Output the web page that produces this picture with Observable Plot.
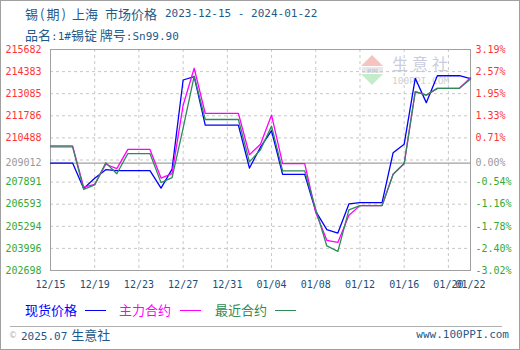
<!DOCTYPE html>
<html>
<head>
<meta charset="utf-8">
<script src="https://cdn.jsdelivr.net/npm/d3@7"></script>
<script src="https://cdn.jsdelivr.net/npm/@observablehq/plot@0.6"></script>
<style>
  body { margin: 0; background: #fff; }
  #wrap { position: relative; width: 520px; height: 350px; overflow: hidden; background: #fff; }
  .c { font-family: "Noto Sans CJK SC", sans-serif; font-size: 13px; }
  .m { font-family: "DejaVu Sans Mono", monospace; font-size: 11px; }
  .abs { position: absolute; white-space: nowrap; line-height: 16px; }
  .p { display: inline-block; width: 8.5px; text-align: center; }
  #border { position: absolute; left: 0; top: 0; width: 520px; height: 350px; box-sizing: border-box; border: 1px solid #a0a0a0; pointer-events: none; z-index: 5; }
  #chart { position: absolute; left: 0; top: 0; z-index: 2; }
  #wm { position: absolute; left: 0; top: 0; z-index: 1; }
  .tx { color: #1f5a8a; }
</style>
</head>
<body>
<div id="wrap">
  <div id="wm">
    <svg width="520" height="350">
      <polygon points="372,55 361,66 383,66" fill="#f6c4c0"/>
      <rect x="362" y="67" width="21" height="6" fill="#e8e8ec"/>
      <text x="372.5" y="72.5" text-anchor="middle" font-family="DejaVu Sans" font-size="6" font-weight="bold" fill="#c8ccd8">PPI</text>
      <polygon points="361,74 383,74 372,85" fill="#c4ecca"/>
      <text x="392" y="70" font-family="Noto Sans CJK SC" font-size="16" letter-spacing="4" fill="#c8cddd">生意社</text>
      <text x="392" y="84" font-family="DejaVu Sans Mono" font-size="9.5" fill="#cfcfcf">100PPI.COM</text>
    </svg>
  </div>
  <div id="chart"></div>
  <div class="abs tx c" style="left:25px;top:6px">锡<span class="p">(</span>期<span class="p">)</span></div>
  <div class="abs tx c" style="left:72px;top:6px">上海</div>
  <div class="abs tx c" style="left:105px;top:6px">市场价格</div>
  <div class="abs tx m" style="left:165px;top:6px">2023-12-15 - 2024-01-22</div>
  <div class="abs tx" style="left:25px;top:27px"><span class="c">品名</span><span class="m">:1#</span><span class="c">锡锭 牌号</span><span class="m">:Sn99.90</span></div>

  <div class="abs c" style="left:25px;top:302px;color:#0000ff">现货价格</div>
  <div style="position:absolute;left:85px;top:310px;width:21px;height:1px;background:#0000ff"></div>
  <div class="abs c" style="left:119px;top:302px;color:#ff00ff">主力合约</div>
  <div style="position:absolute;left:180px;top:310px;width:21px;height:1px;background:#ff00ff"></div>
  <div class="abs c" style="left:215px;top:302px;color:#2e8b57">最近合约</div>
  <div style="position:absolute;left:275px;top:310px;width:21px;height:1px;background:#2e8b57"></div>

  <div style="position:absolute;left:10px;top:326px;width:492px;height:1px;background:#b0b0b0"></div>
  <div class="abs" style="left:9px;top:327px"><span style="font-family:'DejaVu Sans';font-size:8px;color:#a8b4c0;vertical-align:2px">©</span> <span class="m tx">2025.07</span> <span class="c tx">生意社</span></div>
  <div class="abs m tx" style="right:11px;top:327px">www.100PPI.com</div>
  <div id="border"></div>
</div>
<script>
// ---- data ----
const dates = [
  "2023-12-15","2023-12-16","2023-12-17","2023-12-18","2023-12-19","2023-12-20","2023-12-21","2023-12-22",
  "2023-12-23","2023-12-24","2023-12-25","2023-12-26","2023-12-27","2023-12-28","2023-12-29","2023-12-30",
  "2023-12-31","2024-01-01","2024-01-02","2024-01-03","2024-01-04","2024-01-05","2024-01-06","2024-01-07",
  "2024-01-08","2024-01-09","2024-01-10","2024-01-11","2024-01-12","2024-01-13","2024-01-14","2024-01-15",
  "2024-01-16","2024-01-17","2024-01-18","2024-01-19","2024-01-20","2024-01-21","2024-01-22"
];
// 现货价格
const spotPrice = [
  209012,209012,209012,207520,208120,208620,208570,208570,
  208570,208570,207540,208650,213890,214090,211240,211240,
  211240,211240,208720,209940,210910,208350,208350,208350,
  206170,205100,204900,206610,206690,206690,206690,209620,
  210120,213990,212560,214140,214140,214140,213970
];
// 主力合约
const mainContract = [
  210020,210020,210020,207600,207760,208940,208680,209810,
  209810,209810,208130,208390,212410,214580,211930,211930,
  211930,211930,209500,210120,211830,208980,208980,208980,
  206110,204470,204350,205940,206510,206510,206510,208350,
  208980,213200,213000,213400,213400,213400,214020
];
// 最近合约
const nearContract = [
  209960,209960,209960,207470,207730,209030,208380,209570,
  209570,209570,207860,208150,211060,214120,211570,211570,
  211570,211570,209080,209790,211180,208550,208550,208550,
  206290,204140,203820,206260,206510,206510,206510,208350,
  208980,213200,213000,213400,213400,213400,213950
];
const basePrice = 209012;
const yTickValues = [215682,214383,213085,211786,210488,209012,207891,206593,205294,203996,202698];
const leftTickLabels = ["215682","214383","213085","211786","210488","209012","207891","206593","205294","203996","202698"];
const rightTickLabels = ["3.19%","2.57%","1.95%","1.33%","0.71%","0.00%","-0.54%","-1.16%","-1.78%","-2.40%","-3.02%"];
const xTickDates = ["2023-12-15","2023-12-19","2023-12-23","2023-12-27","2023-12-31","2024-01-04","2024-01-08","2024-01-12","2024-01-16","2024-01-20","2024-01-22"];
const xTickLabels = ["12/15","12/19","12/23","12/27","12/31","01/04","01/08","01/12","01/16","01/20","01/22"];

// ---- build ----
const parse = d3.utcParse("%Y-%m-%d");
const rows = dates.map((d, i) => ({date: parse(d), spot: spotPrice[i], main: mainContract[i], near: nearContract[i]}));
const yMin = yTickValues[yTickValues.length - 1], yMax = yTickValues[0];
const gridY = d3.range(1, 10).map(k => yMin + k * (yMax - yMin) / 10);
const xTicks = xTickDates.map(parse);
const labColor = v => v > basePrice ? "#ff3333" : v < basePrice ? "#33aa33" : "#999999";

const chart = Plot.plot({
  width: 520,
  height: 350,
  marginLeft: 50,
  marginRight: 50,
  marginTop: 49,
  marginBottom: 80,
  style: {background: "transparent", fontFamily: "DejaVu Sans Mono, monospace", fontSize: "10px"},
  x: {type: "utc", domain: [parse(dates[0]), parse(dates[dates.length - 1])], axis: null},
  y: {domain: [yMin, yMax], axis: null},
  marks: [
    Plot.ruleY(gridY, {stroke: "#c8c8c8", strokeDasharray: "3,3"}),
    Plot.ruleX(xTicks.slice(1, -1), {stroke: "#c8c8c8", strokeDasharray: "3,3"}),
    Plot.ruleY([basePrice], {stroke: "#a0a0a0", strokeWidth: 1.2}),
    Plot.frame({stroke: "#a0a0a0"}),
    Plot.line(rows, {x: "date", y: "spot", stroke: "#0000ff", strokeWidth: 1.3}),
    Plot.line(rows, {x: "date", y: "main", stroke: "#ff00ff", strokeWidth: 1.3}),
    Plot.line(rows, {x: "date", y: "near", stroke: "#2e8b57", strokeWidth: 1.3}),
    Plot.text(yTickValues, {y: d => d, text: (d, i) => leftTickLabels[i], frameAnchor: "left", dx: -45, textAnchor: "start", fill: d => labColor(d)}),
    Plot.text(yTickValues, {y: d => d, text: (d, i) => rightTickLabels[i], frameAnchor: "right", dx: 5, textAnchor: "start", fill: d => labColor(d)}),
    Plot.text(xTicks, {x: d => d, text: (d, i) => xTickLabels[i], frameAnchor: "bottom", dy: 17, fill: "#1a4f7a"})
  ]
});
document.getElementById("chart").appendChild(chart);
</script>
</body>
</html>
